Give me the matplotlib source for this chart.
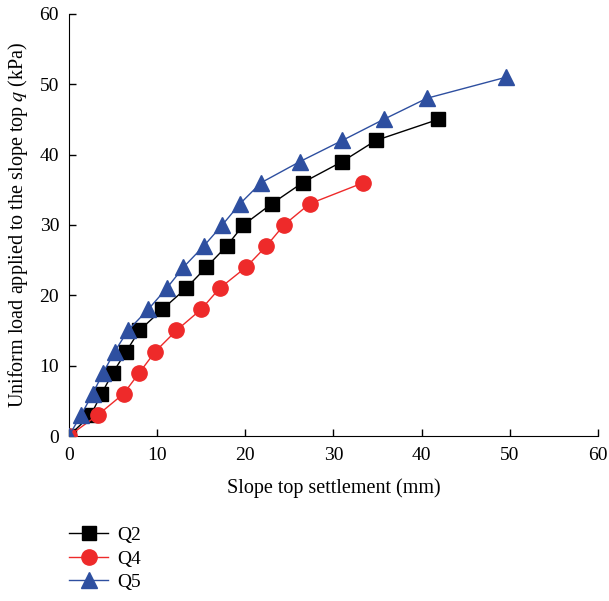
import matplotlib.pyplot as plt

plt.rcParams['font.family'] = ['Liberation Serif', 'DejaVu Serif']
plt.rcParams['mathtext.fontset'] = 'stix'

# settlement (mm) vs load q (kPa)
q2_x = [0, 2.5, 3.7, 5.0, 6.5, 8.0, 10.6, 13.3, 15.6, 17.9, 19.8, 23.0, 26.5, 31.0, 34.8, 41.9]
q2_y = [0, 3, 6, 9, 12, 15, 18, 21, 24, 27, 30, 33, 36, 39, 42, 45]

q4_x = [0, 3.3, 6.2, 8.0, 9.8, 12.2, 15.0, 17.1, 20.1, 22.4, 24.4, 27.3, 33.4]
q4_y = [0, 3, 6, 9, 12, 15, 18, 21, 24, 27, 30, 33, 36]

q5_x = [0, 1.4, 2.7, 3.9, 5.2, 6.7, 9.0, 11.1, 13.0, 15.3, 17.4, 19.4, 21.8, 26.2, 31.0, 35.7, 40.6, 49.6]
q5_y = [0, 3, 6, 9, 12, 15, 18, 21, 24, 27, 30, 33, 36, 39, 42, 45, 48, 51]

fig = plt.figure(figsize=(6.09, 6.01), dpi=100)
ax = fig.add_axes([0.113, 0.2745, 0.869, 0.7025])

ax.plot(q2_x, q2_y, color='black', lw=1, marker='s', ms=10, mfc='black', mec='black',
        label='Q2', zorder=3)
ax.plot(q4_x, q4_y, color='#ee2a2a', lw=1, marker='o', ms=11, mfc='#ee2a2a', mec='#ee2a2a',
        label='Q4', zorder=4)
ax.plot(q5_x, q5_y, color='#2e4fa0', lw=1, marker='^', ms=12, mfc='#2e4fa0', mec='#2e4fa0',
        label='Q5', zorder=5)

ax.set_xlim(0, 60)
ax.set_ylim(0, 60)
ax.set_xticks(range(0, 61, 10))
ax.set_yticks(range(0, 61, 10))
ax.tick_params(direction='in', labelsize=14, length=5, width=1)
ax.tick_params(axis='x', pad=8)
ax.tick_params(axis='y', pad=7)
ax.spines['top'].set_visible(False)
ax.spines['right'].set_visible(False)

ax.set_xlabel('Slope top settlement (mm)', fontsize=14.5, labelpad=10)
ax.set_ylabel('Uniform load applied to the slope top $q$ (kPa)', fontsize=14.5, labelpad=7)

fig.legend(loc='upper left', bbox_to_anchor=(0.098, 0.14), frameon=False, fontsize=14,
           handlelength=2.0, handletextpad=0.45, labelspacing=0.3, borderpad=0)

fig.savefig('out.png', dpi=100)
